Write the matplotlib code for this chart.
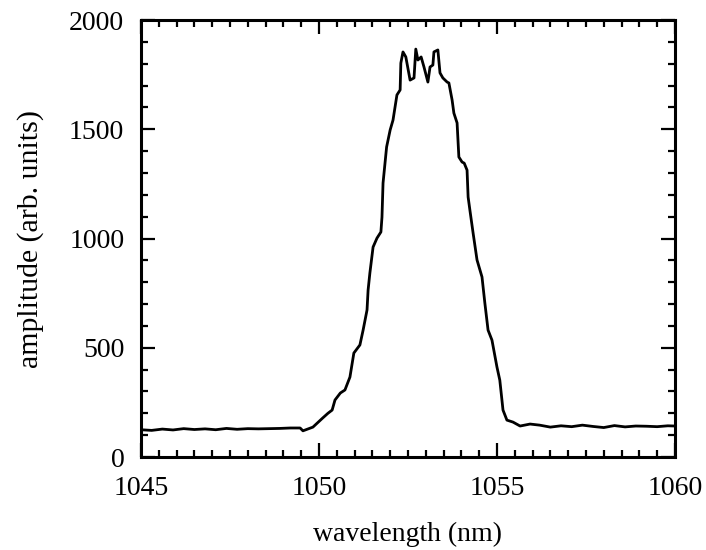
import matplotlib.pyplot as plt
from matplotlib.ticker import MultipleLocator

# Spectrum
wavelength = [1045.0, 1045.3, 1045.6, 1045.9, 1046.2, 1046.5, 1046.8, 1047.1, 1047.4, 1047.7,
              1048.0, 1048.3, 1048.6, 1048.9, 1049.2, 1049.47, 1049.55, 1049.83, 1050.1, 1050.25,
              1050.37, 1050.45, 1050.6, 1050.73, 1050.87, 1050.98, 1051.15, 1051.24, 1051.35, 1051.38,
              1051.43, 1051.52, 1051.63, 1051.74, 1051.77, 1051.8, 1051.9, 1052.0, 1052.08, 1052.19,
              1052.28, 1052.3, 1052.36, 1052.44, 1052.56, 1052.67, 1052.72, 1052.78, 1052.87, 1052.95,
              1053.06, 1053.12, 1053.2, 1053.23, 1053.34, 1053.4, 1053.48, 1053.6, 1053.65, 1053.74,
              1053.79, 1053.88, 1053.93, 1054.02, 1054.08, 1054.16, 1054.19, 1054.24, 1054.33, 1054.44,
              1054.58, 1054.66, 1054.75, 1054.86, 1055.0, 1055.08, 1055.14, 1055.17, 1055.28, 1055.45,
              1055.65, 1055.93, 1056.2, 1056.5, 1056.8, 1057.1, 1057.4, 1057.7, 1058.0, 1058.3,
              1058.6, 1058.9, 1059.2, 1059.5, 1059.8, 1060.0]
amplitude = [125, 122, 128, 124, 130, 126, 129, 125, 131, 127,
             130, 129, 130, 131, 133, 133, 120, 137, 178, 200,
             215, 261, 293, 307, 366, 476, 513, 581, 673, 764,
             842, 961, 1002, 1030, 1098, 1254, 1419, 1497, 1542, 1657,
             1680, 1803, 1854, 1831, 1725, 1735, 1867, 1817, 1831, 1785,
             1716, 1785, 1794, 1854, 1863, 1758, 1735, 1716, 1712, 1634,
             1574, 1529, 1373, 1350, 1345, 1313, 1190, 1130, 1025, 902,
             824, 705, 581, 535, 412, 352, 261, 215, 169, 160,
             142, 151, 146, 137, 143, 139, 146, 140, 135, 144,
             138, 142, 141, 139, 143, 142]

plt.rcParams['font.family'] = ['Liberation Serif', 'DejaVu Serif']

fig = plt.figure(figsize=(7.06, 5.5), dpi=100)
ax = fig.add_axes([0.1997, 0.169, 0.7563, 0.7946])

ax.plot(wavelength, amplitude, color='black', linewidth=2.0)

ax.set_xlim(1045, 1060)
ax.set_ylim(0, 2000)
ax.xaxis.set_major_locator(MultipleLocator(5))
ax.xaxis.set_minor_locator(MultipleLocator(0.5))
ax.yaxis.set_major_locator(MultipleLocator(500))
ax.yaxis.set_minor_locator(MultipleLocator(100))
ax.tick_params(which='both', direction='in', top=True, right=True, width=1.6, labelsize=20)
ax.tick_params(axis='x', which='major', pad=14)
ax.tick_params(axis='y', which='major', pad=12)
ax.tick_params(which='major', length=10)
ax.tick_params(which='minor', length=5)
for s in ax.spines.values():
    s.set_linewidth(2.2)

ax.set_xlabel('wavelength (nm)', fontsize=20, labelpad=15)
ax.set_ylabel('amplitude (arb. units)', fontsize=21.5, labelpad=18)

fig.savefig('out.png', dpi=100)
